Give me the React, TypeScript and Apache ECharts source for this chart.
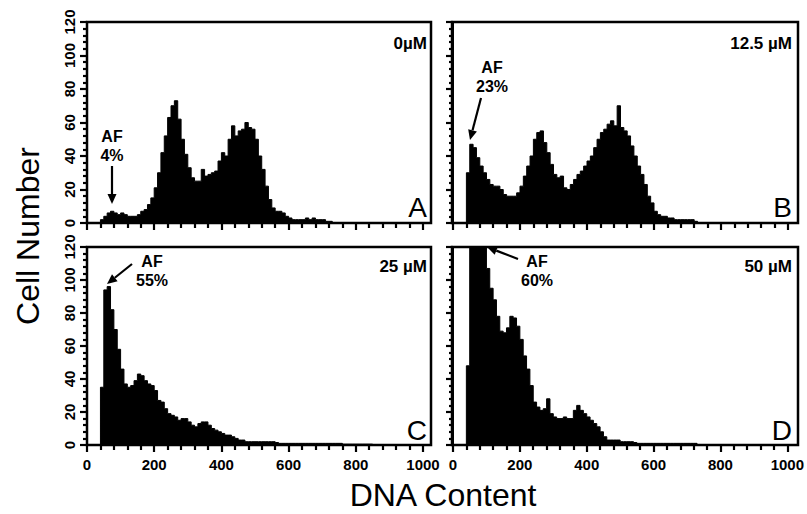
import React, { useEffect, useRef } from "react";
import * as echarts from "echarts";

// Histogram bins: bin start = index * BIN_WIDTH (DNA content units)
const BIN_WIDTH = 10;

const countsA = [
  0, 0, 0, 0, 2, 4, 6, 7, 6, 5,
  6, 5, 4, 4, 4, 5, 7, 8, 11, 15,
  21, 30, 42, 52, 63, 70, 73, 62, 50, 41,
  33, 27, 25, 25, 32, 28, 29, 30, 31, 37,
  42, 40, 50, 58, 52, 55, 56, 60, 57, 56,
  50, 40, 32, 22, 14, 9, 7, 7, 6, 4,
  3, 2, 2, 2, 2, 3, 2, 3, 2, 2,
  2, 1, 1, 0,
];

const countsB = [
  0, 0, 0, 0, 30, 47, 45, 39, 34, 30,
  26, 23, 22, 22, 20, 17, 16, 16, 16, 18,
  22, 28, 34, 40, 50, 54, 55, 48, 42, 35,
  29, 27, 28, 21, 20, 23, 26, 29, 31, 34,
  37, 40, 45, 50, 54, 56, 59, 61, 58, 70,
  57, 55, 52, 46, 40, 34, 29, 23, 16, 12,
  7, 5, 4, 4, 3, 3, 2, 2, 2, 2,
  2, 2, 1, 0,
];

const countsC = [
  0, 0, 0, 0, 35, 94, 96, 82, 70, 58,
  46, 37, 35, 36, 39, 43, 42, 39, 37, 36,
  33, 27, 26, 22, 19, 18, 17, 15, 16, 16,
  14, 12, 11, 13, 14, 14, 12, 10, 9, 8,
  7, 6, 6, 5, 4, 3, 3, 2, 2, 2,
  2, 2, 2, 2, 2, 2, 1.5, 1, 1, 1,
  1, 1, 1, 1, 1, 1, 1, 1, 1, 1,
  1, 1, 1, 1, 1, 1, 0.5, 0.5, 0.5, 0.5,
  0.5, 0.5, 0.5, 0.5, 0.5, 0,
];

const countsD = [
  0, 0, 0, 0, 48, 122, 125, 125, 125, 122,
  107, 95, 88, 78, 69, 68, 71, 78, 77, 72,
  64, 54, 46, 36, 26, 23, 21, 22, 28, 19,
  17, 16, 16, 17, 16, 16, 21, 24, 21, 19,
  17, 15, 13, 11, 8, 5, 3, 3, 3, 3,
  2, 2, 2, 2, 1.5, 1, 1, 1, 1, 1,
  1, 1, 1, 1, 1, 1, 1, 1, 1, 1,
  1, 1, 1, 0,
];

const xTicks = [0, 200, 400, 600, 800, 1000];
const yTicks = [0, 20, 40, 60, 80, 100, 120];

const concentrations = ["0\u00b5M", "12.5 \u00b5M", "25 \u00b5M", "50 \u00b5M"];
const panelLetters = ["A", "B", "C", "D"];
const afPercents = ["4%", "23%", "55%", "60%"];

const FONT = "'Liberation Sans', Arial, Helvetica, sans-serif";

const toPairs = (arr: number[]) => arr.map((v, i) => [i * BIN_WIDTH, v]);

const arrow = (x1: number, y1: number, x2: number, y2: number) => {
  const ang = Math.atan2(y2 - y1, x2 - x1);
  const len = 10;
  const half = 4.5;
  const bx = x2 - len * Math.cos(ang);
  const by = y2 - len * Math.sin(ang);
  const px = -Math.sin(ang) * half;
  const py = Math.cos(ang) * half;
  return [
    {
      type: "line",
      shape: { x1, y1, x2: bx, y2: by },
      style: { stroke: "#000", lineWidth: 2.2 },
    },
    {
      type: "polygon",
      shape: { points: [[x2, y2], [bx + px, by + py], [bx - px, by - py]] },
      style: { fill: "#000" },
    },
  ];
};

export default function App() {
  const ref = useRef<HTMLDivElement>(null);

  useEffect(() => {
    document.body.style.margin = "0";
    if (!ref.current) return;
    const chart = echarts.init(ref.current, undefined, { renderer: "svg" });

    const grids = [
      { left: 87, top: 22, width: 336, height: 201 },
      { left: 453, top: 22, width: 335, height: 201 },
      { left: 87, top: 247, width: 336, height: 198 },
      { left: 453, top: 247, width: 335, height: 198 },
    ];
    const frames = [
      [87, 22, 344, 201],
      [452, 22, 346, 201],
      [87, 247, 344, 198],
      [452, 247, 346, 198],
    ];
    const allCounts = [countsA, countsB, countsC, countsD];

    const xAxes = grids.map((_, i) => ({
      type: "value",
      gridIndex: i,
      min: xTicks[0],
      max: xTicks[xTicks.length - 1],
      interval: xTicks[1] - xTicks[0],
      axisLine: { show: true, lineStyle: { color: "#000", width: 2 } },
      axisTick: { show: true, length: 7, lineStyle: { color: "#000", width: 2.2 } },
      minorTick: { show: true, splitNumber: 5, length: 5, lineStyle: { color: "#000", width: 2.2 } },
      splitLine: { show: false },
      minorSplitLine: { show: false },
      axisLabel: {
        show: i >= 2,
        color: "#000",
        fontFamily: FONT,
        fontWeight: "bold",
        fontSize: 15,
        margin: 12,
        formatter: (v: number) => String(v),
      },
    }));

    const yAxes = grids.map((_, i) => ({
      type: "value",
      gridIndex: i,
      min: yTicks[0],
      max: yTicks[yTicks.length - 1],
      interval: yTicks[1] - yTicks[0],
      axisLine: { show: true, lineStyle: { color: "#000", width: 2 } },
      axisTick: { show: true, length: 7, lineStyle: { color: "#000", width: 2.2 } },
      minorTick: { show: true, splitNumber: 5, length: 4, lineStyle: { color: "#000", width: 2.2 } },
      splitLine: { show: false },
      minorSplitLine: { show: false },
      axisLabel: {
        show: i % 2 === 0,
        rotate: 90,
        color: "#000",
        fontFamily: FONT,
        fontWeight: "bold",
        fontSize: 15,
        margin: 10,
        formatter: (v: number) => String(v),
      },
    }));

    const series = allCounts.map((counts, i) => ({
      type: "line",
      xAxisIndex: i,
      yAxisIndex: i,
      step: "end",
      showSymbol: false,
      clip: true,
      data: toPairs(counts),
      lineStyle: { color: "#000", width: 1 },
      areaStyle: { color: "#000", opacity: 1 },
    }));

    const graphics: any[] = [];
    frames.forEach(([x, y, w, h]) => {
      graphics.push({
        type: "rect",
        shape: { x, y, width: w, height: h },
        style: { fill: "none", stroke: "#000", lineWidth: 2.5 },
        z: 10,
      });
    });

    const concPos = [
      [427, 43],
      [792, 43],
      [427, 266],
      [792, 266],
    ];
    concentrations.forEach((t, i) => {
      graphics.push({
        type: "text",
        x: concPos[i][0],
        y: concPos[i][1],
        style: {
          text: t,
          fill: "#000",
          font: `bold 17px ${FONT}`,
          align: "right",
          verticalAlign: "middle",
        },
      });
    });

    const letterPos = [
      [427, 207],
      [792, 207],
      [427, 430],
      [792, 430],
    ];
    panelLetters.forEach((t, i) => {
      graphics.push({
        type: "text",
        x: letterPos[i][0],
        y: letterPos[i][1],
        style: {
          text: t,
          fill: "#000",
          font: `28px ${FONT}`,
          align: "right",
          verticalAlign: "middle",
        },
      });
    });

    const afPos = [
      [112, 146],
      [492, 77],
      [152, 271],
      [537, 271],
    ];
    afPercents.forEach((t, i) => {
      graphics.push({
        type: "text",
        x: afPos[i][0],
        y: afPos[i][1] - 9.5,
        style: {
          text: "AF",
          fill: "#000",
          font: `bold 16px ${FONT}`,
          align: "center",
          verticalAlign: "middle",
        },
      });
      graphics.push({
        type: "text",
        x: afPos[i][0],
        y: afPos[i][1] + 9.5,
        style: {
          text: t,
          fill: "#000",
          font: `bold 16px ${FONT}`,
          align: "center",
          verticalAlign: "middle",
        },
      });
    });

    graphics.push(...arrow(112, 166, 112, 204));
    graphics.push(...arrow(481, 98, 470, 140));
    graphics.push(...arrow(132, 264, 107, 284));
    graphics.push(...arrow(518, 259, 487, 247));

    graphics.push({
      type: "text",
      x: 28,
      y: 236,
      rotation: Math.PI / 2,
      style: {
        text: "Cell Number",
        fill: "#000",
        font: `32px ${FONT}`,
        align: "center",
        verticalAlign: "middle",
      },
    });
    graphics.push({
      type: "text",
      x: 443,
      y: 495,
      style: {
        text: "DNA Content",
        fill: "#000",
        font: `32px ${FONT}`,
        align: "center",
        verticalAlign: "middle",
      },
    });

    chart.setOption({
      animation: false,
      backgroundColor: "#fff",
      grid: grids,
      xAxis: xAxes,
      yAxis: yAxes,
      series,
      graphic: graphics,
    });

    return () => chart.dispose();
  }, []);

  return <div ref={ref} style={{ width: 807, height: 514 }} />;
}
